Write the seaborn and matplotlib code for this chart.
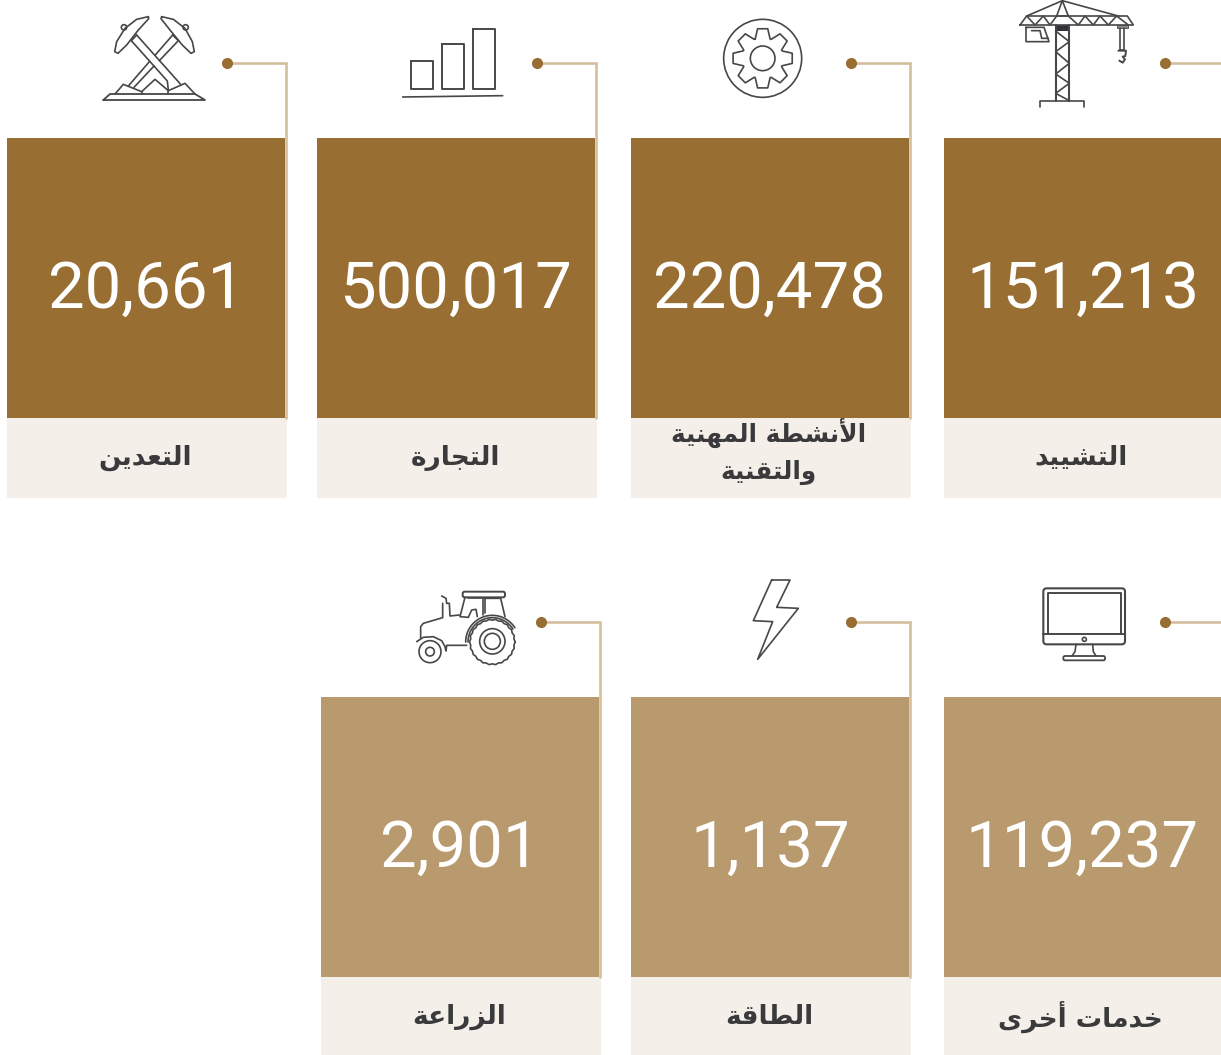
import numpy as np
import matplotlib
matplotlib.use('Agg')
import matplotlib.pyplot as plt
from matplotlib.colors import ListedColormap
from matplotlib.patches import Rectangle, Circle, FancyBboxPatch
import seaborn as sns

sns.set_theme(style='white')
plt.rcParams['font.family'] = ['Roboto', 'DejaVu Sans']

# data
top_labels = ['التعدين', 'التجارة', 'الأنشطة المهنية\nوالتقنية', 'التشييد']
top_values = [20661, 500017, 220478, 151213]
bottom_labels = ['الزراعة', 'الطاقة', 'خدمات أخرى']
bottom_values = [2901, 1137, 119237]

W, H = 1221, 1055
DARK = '#996e33'
LIGHT = '#b89a6e'
PALE = '#f4efe9'
LINE = '#d4bf9f'
INK = '#3a3a3c'
STROKE = '#47474a'

# matplotlib does not shape arabic, so pick the presentation forms by hand
# letter: isolated, final, initial, medial
FORMS = {
    'ا': (0xFE8D, 0xFE8E, None, None), 'أ': (0xFE83, 0xFE84, None, None),
    'ل': (0xFEDD, 0xFEDE, 0xFEDF, 0xFEE0), 'ت': (0xFE95, 0xFE96, 0xFE97, 0xFE98),
    'ع': (0xFEC9, 0xFECA, 0xFECB, 0xFECC), 'د': (0xFEA9, 0xFEAA, None, None),
    'ي': (0xFEF1, 0xFEF2, 0xFEF3, 0xFEF4), 'ن': (0xFEE5, 0xFEE6, 0xFEE7, 0xFEE8),
    'ج': (0xFE9D, 0xFE9E, 0xFE9F, 0xFEA0), 'ر': (0xFEAD, 0xFEAE, None, None),
    'ة': (0xFE93, 0xFE94, None, None), 'ش': (0xFEB5, 0xFEB6, 0xFEB7, 0xFEB8),
    'ط': (0xFEC1, 0xFEC2, 0xFEC3, 0xFEC4), 'م': (0xFEE1, 0xFEE2, 0xFEE3, 0xFEE4),
    'ه': (0xFEE9, 0xFEEA, 0xFEEB, 0xFEEC), 'و': (0xFEED, 0xFEEE, None, None),
    'ق': (0xFED5, 0xFED6, 0xFED7, 0xFED8), 'ز': (0xFEAF, 0xFEB0, None, None),
    'خ': (0xFEA5, 0xFEA6, 0xFEA7, 0xFEA8), 'ى': (0xFEEF, 0xFEF0, None, None),
}
LIGATURES = {'ا': (0xFEFB, 0xFEFC), 'أ': (0xFEF7, 0xFEF8)}


def shape_word(word):
    out = []
    i = 0
    joined = False
    while i < len(word):
        c = word[i]
        nxt = word[i + 1] if i + 1 < len(word) else None
        if c == 'ل' and nxt in LIGATURES:
            out.append(chr(LIGATURES[nxt][1 if joined else 0]))
            joined = False
            i += 2
            continue
        iso, fin, ini, med = FORMS[c]
        to_next = ini is not None and nxt is not None
        if joined and to_next:
            out.append(chr(med))
        elif joined:
            out.append(chr(fin))
        elif to_next:
            out.append(chr(ini))
        else:
            out.append(chr(iso))
        joined = to_next
        i += 1
    return ''.join(reversed(out))


def shape(text):
    lines = []
    for line in text.split('\n'):
        lines.append(' '.join(shape_word(w) for w in reversed(line.split(' '))))
    return lines


fig = plt.figure(figsize=(W / 100, H / 100), dpi=100, facecolor='white')
bg = fig.add_axes([0, 0, 1, 1])
bg.set_xlim(0, W)
bg.set_ylim(H, 0)
bg.axis('off')


def tile(x0, x1, y0, y1, value, color):
    # one cell heatmap holding the figure
    ax = fig.add_axes([x0 / W, 1 - y1 / H, (x1 - x0) / W, (y1 - y0) / H])
    sns.heatmap(np.array([[value]]), ax=ax, annot=True, fmt=',d', cbar=False,
                cmap=ListedColormap([color]), xticklabels=False, yticklabels=False,
                annot_kws={'fontsize': 47, 'color': 'white', 'fontweight': 'normal',
                           'family': ['Roboto', 'DejaVu Sans']})
    ax.texts[0].set_y(0.5 + 12 / (y1 - y0))


def caption(x0, x1, y0, y1, text, fs=19):
    bg.add_patch(Rectangle((x0, y0), x1 - x0, y1 - y0, fc=PALE, ec='none'))
    lines = shape(text)
    cx = (x0 + x1) / 2 - 2
    if len(lines) == 1:
        bg.text(cx, y0 + 40, lines[0], ha='center', va='center', fontsize=fs,
                fontweight='bold', color=INK, family='DejaVu Sans')
    else:
        for ln, yy in zip(lines, [y0 + 15, y0 + 54]):
            bg.text(cx, yy, ln, ha='center', va='center', fontsize=fs - 1.2,
                    fontweight='bold', color=INK, family='DejaVu Sans')


def connector(dot_x, y, line_x, y_end):
    bg.plot([dot_x, line_x, line_x], [y, y, y_end], color=LINE, lw=1.9,
            solid_joinstyle='miter', zorder=3)
    bg.plot([dot_x], [y], 'o', color=DARK, ms=8, mew=0, zorder=4)


def zl(pts, ox, oy, lw=1.2, closed=False, color=STROKE):
    p = np.array(pts, dtype=float)
    if closed:
        p = np.vstack([p, p[:1]])
    bg.plot(ox + p[:, 0] / 3, oy + p[:, 1] / 3, color=color, lw=lw,
            solid_joinstyle='round', solid_capstyle='round')


def zc(cx, cy, r, ox, oy, lw=1.2):
    bg.add_patch(Circle((ox + cx / 3, oy + cy / 3), r / 3, fc='none', ec=STROKE, lw=lw))


def zr(x0, y0, x1, y1, ox, oy, lw=1.2, rad=6):
    bg.add_patch(FancyBboxPatch((ox + x0 / 3, oy + y0 / 3), (x1 - x0) / 3, (y1 - y0) / 3,
                                boxstyle=f'round,pad=0,rounding_size={rad / 3}',
                                fc='none', ec=STROKE, lw=lw))


def crane():
    ox, oy = 940, 0
    zl([(240, 75), (580, 75), (562, 48), (260, 48)], ox, oy, closed=True)
    zl([(260, 48), (367, 2), (535, 48)], ox, oy)
    zl([(350, 48), (367, 2), (385, 48)], ox, oy)
    zl([(260, 48), (285, 75), (310, 48), (330, 75), (350, 48), (385, 48), (415, 75),
        (435, 48), (460, 75), (480, 48), (505, 75), (530, 48), (565, 75)], ox, oy)
    bg.add_patch(Rectangle((ox + 347 / 3, 75 / 3), 41 / 3, 18 / 3, fc='#333336', ec='none'))
    zl([(347, 75), (347, 302)], ox, oy, lw=1.5)
    zl([(388, 75), (388, 302)], ox, oy, lw=1.5)
    zl([(347, 93), (388, 125), (347, 155), (388, 190), (347, 222), (388, 250),
        (347, 280), (388, 302)], ox, oy)
    zl([(300, 322), (300, 303), (433, 303), (433, 322)], ox, oy)
    zl([(258, 82), (258, 125), (327, 125), (312, 82)], ox, oy, closed=True)
    zl([(275, 92), (300, 92), (305, 115), (325, 115)], ox, oy)
    bg.add_patch(Rectangle((ox + 530 / 3, 75 / 3), 35 / 3, 10 / 3, fc='#8a8a8c', ec=STROKE, lw=0.6))
    zl([(540, 85), (540, 150), (552, 150), (552, 85)], ox, oy)
    zl([(535, 152), (558, 152), (556, 168), (548, 170), (555, 178), (548, 188), (538, 182)],
       ox, oy, lw=1.4)


def gear():
    ox, oy = 630, 0
    cx, cy = 398, 175
    zc(cx, cy, 117, ox, oy)
    zc(cx, cy, 37, ox, oy)
    xs, ys = [], []
    for k in range(8):
        a = k * np.pi / 4 - np.pi / 2
        for da, r in [(-0.37, 62), (-0.17, 90), (0.17, 90), (0.37, 62)]:
            xs.append(cx + r * np.cos(a + da))
            ys.append(cy + r * np.sin(a + da))
    zl(list(zip(xs, ys)), ox, oy, closed=True)


def picks():
    ox, oy = 90, 0
    zl([(175, 50), (140, 58), (105, 85), (80, 125), (74, 155), (84, 160), (110, 135),
        (145, 90), (176, 56)], ox, oy, closed=True)
    zl([(215, 50), (250, 58), (285, 85), (307, 125), (313, 155), (303, 160), (277, 135),
        (240, 90), (213, 56)], ox, oy, closed=True)
    zc(102, 82, 8, ox, oy)
    zc(287, 82, 8, ox, oy)
    zl([(140, 105), (272, 253)], ox, oy)
    zl([(124, 122), (232, 243), (235, 270)], ox, oy)
    zl([(124, 122), (140, 105)], ox, oy)
    zl([(248, 105), (265, 122)], ox, oy)
    zl([(248, 105), (195, 166)], ox, oy)
    zl([(179, 184), (115, 258)], ox, oy)
    zl([(265, 122), (208, 182)], ox, oy)
    zl([(192, 198), (132, 262)], ox, oy)
    zl([(40, 300), (60, 282), (315, 282), (345, 300)], ox, oy, closed=True, lw=1.3)
    zl([(75, 282), (100, 253), (155, 275), (195, 238), (235, 272), (285, 250), (315, 282)], ox, oy)
    zl([(155, 275), (155, 282)], ox, oy)
    zl([(235, 272), (235, 282)], ox, oy)


def bars():
    ox, oy = 390, 10
    zl([(62, 152), (128, 152), (128, 238), (62, 238)], ox, oy, closed=True, lw=1.4)
    zl([(155, 102), (221, 102), (221, 238), (155, 238)], ox, oy, closed=True, lw=1.4)
    zl([(249, 58), (315, 58), (315, 238), (249, 238)], ox, oy, closed=True, lw=1.4)
    zl([(38, 261), (338, 257)], ox, oy)


def tractor():
    ox, oy = 400, 570
    t = np.linspace(0, 2 * np.pi, 45)
    r = 67 + 1.5 * np.where(np.arange(45) % 2 == 0, 1, -1)
    zl(list(zip(277 + r * np.cos(t), 216 + r * np.sin(t))), ox, oy)
    zc(277, 214, 38, ox, oy)
    zc(277, 214, 24, ox, oy)
    zc(90, 245, 33, ox, oy)
    zc(90, 245, 13, ox, oy)
    zr(188, 65, 315, 82, ox, oy, lw=1.4, rad=6)
    zl([(195, 82), (180, 140), (205, 142), (215, 120), (228, 118), (232, 140)], ox, oy)
    zl([(205, 85), (248, 85), (248, 135)], ox, oy)
    zl([(255, 85), (302, 85), (315, 140)], ox, oy)
    zl([(255, 85), (255, 130)], ox, oy)
    zl([(178, 135), (150, 138), (148, 100), (140, 100), (138, 85), (125, 78)], ox, oy)
    zl([(128, 100), (128, 143), (70, 160), (62, 170), (62, 205)], ox, oy)
    zl([(50, 215), (70, 202), (100, 200), (125, 212), (135, 230), (138, 243), (140, 226), (200, 226)], ox, oy)
    for rr in [73, 80]:
        a = np.linspace(np.pi, np.pi * 1.82, 30)
        zl(list(zip(277 + rr * np.cos(a), 216 + rr * np.sin(a))), ox, oy)


def bolt():
    zl([(125, 30), (180, 30), (140, 112), (205, 115), (83, 268), (128, 155), (70, 152)],
       730, 570, closed=True)


def monitor():
    ox, oy = 730, 570
    zr(940, 55, 1185, 223, ox, oy, lw=1.5, rad=10)
    zl([(953, 193), (953, 68), (1172, 68), (1172, 193)], ox, oy, lw=1.4)
    zl([(940, 193), (1185, 193)], ox, oy, lw=1.4)
    zc(1063, 208, 6, ox, oy)
    zl([(1038, 223), (1035, 245), (1026, 258)], ox, oy)
    zl([(1088, 223), (1090, 245), (1098, 258)], ox, oy)
    zr(1000, 258, 1125, 271, ox, oy, lw=1.3, rad=5)


# top row
top_x = [(7, 285), (317, 595), (631, 909), (944, 1221)]
top_dots = [(227, 286), (537, 596), (851, 910), (1165, None)]
for (x0, x1), val, lab, (dx, lx) in zip(top_x, top_values, top_labels, top_dots):
    tile(x0, x1, 138, 418, val, DARK)
    caption(x0, min(x1 + 2, W), 418, 498, lab)
    connector(dx, 63, lx if lx else W + 5, 418)

# bottom row
bot_x = [(321, 599), (631, 909), (944, 1221)]
bot_dots = [(541, 600), (851, 910), (1165, None)]
for (x0, x1), val, lab, (dx, lx) in zip(bot_x, bottom_values, bottom_labels, bot_dots):
    tile(x0, x1, 697, 977, val, LIGHT)
    caption(x0, min(x1 + 2, W), 977, 1055, lab)
    connector(dx, 622, lx if lx else W + 5, 977)

crane()
gear()
picks()
bars()
tractor()
bolt()
monitor()

bg.set_xlim(0, W)
bg.set_ylim(H, 0)
fig.savefig('out.png', dpi=100)
